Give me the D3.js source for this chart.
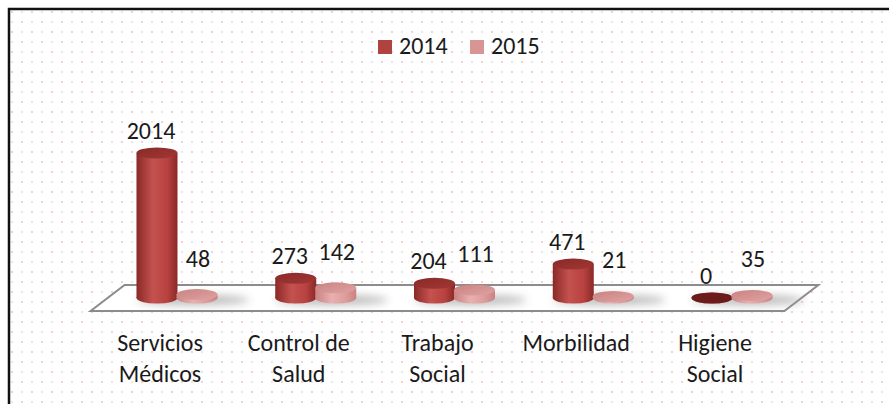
<!DOCTYPE html>
<html>
<head>
<meta charset="utf-8">
<script src="https://cdn.jsdelivr.net/npm/d3@7"></script>
<style>
  body { margin: 0; background: #fff; }
  text { font-family: Carlito, "Liberation Sans Narrow", "Liberation Sans", sans-serif; fill: #1a1a1a; }
</style>
</head>
<body>
<div id="chart"></div>
<script>
var categories = ["Servicios Médicos", "Control de Salud", "Trabajo Social", "Morbilidad", "Higiene Social"];
var categoryLines = [["Servicios", "Médicos"], ["Control de", "Salud"], ["Trabajo", "Social"], ["Morbilidad"], ["Higiene", "Social"]];
var series = ["2014", "2015"];
var values2014 = [2014, 273, 204, 471, 0];
var values2015 = [48, 142, 111, 21, 35];

var width = 889, height = 404;
var depth = 17; // perspective shift of the floor

var svg = d3.select("#chart").append("svg")
  .attr("width", width)
  .attr("height", height);

var defs = svg.append("defs");

// dotted background
var pat = defs.append("pattern")
  .attr("id", "dots")
  .attr("width", 20).attr("height", 20)
  .attr("patternUnits", "userSpaceOnUse");
pat.append("circle").attr("cx", 2).attr("cy", 2).attr("r", 0.9).attr("fill", "#efb9c6");
pat.append("circle").attr("cx", 12).attr("cy", 2).attr("r", 0.9).attr("fill", "#dddddd");
pat.append("circle").attr("cx", 2).attr("cy", 12).attr("r", 0.9).attr("fill", "#dddddd");
pat.append("circle").attr("cx", 12).attr("cy", 12).attr("r", 0.9).attr("fill", "#efb9c6");

svg.append("rect").attr("width", width).attr("height", height).attr("fill", "#fff");
svg.append("rect").attr("x", 9).attr("y", 9).attr("width", width).attr("height", height)
  .attr("fill", "url(#dots)");
svg.append("path")
  .attr("d", "M9," + height + "V9H" + width)
  .attr("fill", "none").attr("stroke", "#111").attr("stroke-width", 2.5);

// gradients
var colors = {
  "2014": { dark: "#8a2927", mid: "#c4524f", light: "#b8423f", top: "#a13835", zero: "#6a1b1a" },
  "2015": { dark: "#c98281", mid: "#e8b0b0", light: "#dc9c9b", top: "#dfa3a2", zero: "#c98281" }
};
series.forEach(function(s) {
  var g = defs.append("linearGradient").attr("id", "body" + s)
    .attr("x1", 0).attr("x2", 1).attr("y1", 0).attr("y2", 0);
  g.append("stop").attr("offset", "0%").attr("stop-color", colors[s].dark);
  g.append("stop").attr("offset", "40%").attr("stop-color", colors[s].mid);
  g.append("stop").attr("offset", "75%").attr("stop-color", colors[s].light);
  g.append("stop").attr("offset", "100%").attr("stop-color", colors[s].dark);
  var t = defs.append("linearGradient").attr("id", "top" + s)
    .attr("x1", 0).attr("x2", 1).attr("y1", 0).attr("y2", 1);
  t.append("stop").attr("offset", "0%").attr("stop-color", colors[s].dark);
  t.append("stop").attr("offset", "100%").attr("stop-color", colors[s].top);
});
defs.append("filter").attr("id", "blur")
  .attr("x", "-50%").attr("y", "-200%").attr("width", "200%").attr("height", "500%")
  .append("feGaussianBlur").attr("stdDeviation", 4);

var x = d3.scaleBand()
  .domain(categories)
  .range([107.6, 801.4]);

var xs = d3.scaleBand()
  .domain(series)
  .range([-40, 40]);

var y = d3.scaleLinear()
  .domain([0, 2500])
  .range([298, 118]);

var rx = xs.bandwidth() / 2 + 0.5, ry = 5.5;

// floor
var x0 = x.range()[0], x1 = x.range()[1];
var yBack = y(0) - 13, yFront = y(0) + 13;
svg.append("path")
  .attr("d", "M" + (x0 + depth) + "," + yBack + "L" + (x1 + depth) + "," + yBack +
    "L" + (x1 - depth) + "," + yFront + "L" + (x0 - depth) + "," + yFront + "Z")
  .attr("fill", "#fff")
  .attr("stroke", "#8c8c8c")
  .attr("stroke-width", 2);

var data = [];
categories.forEach(function(c, i) {
  data.push({ cat: c, s: "2014", v: values2014[i] });
  data.push({ cat: c, s: "2015", v: values2015[i] });
});
function cx(d) { return x(d.cat) + x.bandwidth() / 2 + xs(d.s) + xs.bandwidth() / 2; }

// shadows
svg.selectAll(".shadow")
  .data(categories)
  .enter()
  .append("ellipse")
  .attr("class", "shadow")
  .attr("cx", function(c) { return x(c) + x.bandwidth() / 2 + 16; })
  .attr("cy", y(0) + 2)
  .attr("rx", 56).attr("ry", 5)
  .attr("fill", "#9a9a9a")
  .attr("opacity", 0.7)
  .attr("filter", "url(#blur)");

var bars = svg.selectAll(".cyl")
  .data(data)
  .enter()
  .append("g")
  .attr("class", "cyl");

bars.append("ellipse")
  .attr("cx", cx).attr("cy", y(0))
  .attr("rx", rx).attr("ry", ry)
  .attr("fill", function(d) { return "url(#body" + d.s + ")"; });

bars.append("rect")
  .attr("x", function(d) { return cx(d) - rx; })
  .attr("y", function(d) { return y(d.v); })
  .attr("width", rx * 2)
  .attr("height", function(d) { return y(0) - y(d.v); })
  .attr("fill", function(d) { return "url(#body" + d.s + ")"; });

bars.append("ellipse")
  .attr("cx", cx).attr("cy", function(d) { return y(d.v); })
  .attr("rx", rx).attr("ry", ry)
  .attr("fill", function(d) { return d.v === 0 ? colors[d.s].zero : "url(#top" + d.s + ")"; });

// value labels
svg.selectAll(".val")
  .data(data)
  .enter()
  .append("text")
  .attr("class", "val")
  .attr("x", function(d) { return d.s === "2014" ? cx(d) - 6 : cx(d) + 1; })
  .attr("y", function(d) { return y(d.v) - (d.s === "2014" ? 14 : 28); })
  .attr("text-anchor", "middle")
  .style("font-size", "24px")
  .text(function(d) { return d.v; });

// category labels
var cl = svg.selectAll(".cat")
  .data(categories)
  .enter()
  .append("text")
  .attr("class", "cat")
  .attr("x", function(c) { return x(c) + x.bandwidth() / 2 - depth; })
  .attr("y", 351)
  .attr("text-anchor", "middle")
  .style("font-size", "24px");
cl.selectAll("tspan")
  .data(function(c, i) { return categoryLines[i]; })
  .enter()
  .append("tspan")
  .attr("x", function() { return d3.select(this.parentNode).attr("x"); })
  .attr("dy", function(d, i) { return i === 0 ? 0 : 31; })
  .text(function(d) { return d; });

// legend
var legend = svg.selectAll(".leg")
  .data(series)
  .enter()
  .append("g")
  .attr("class", "leg")
  .attr("transform", function(d, i) { return "translate(" + (378 + i * 92) + ",40)"; });
legend.append("rect")
  .attr("width", 14).attr("height", 14)
  .attr("fill", function(d) { return d === "2014" ? "#b04240" : "#d99594"; });
legend.append("text")
  .attr("x", 21).attr("y", 14)
  .style("font-size", "24px")
  .text(function(d) { return d; });
</script>
</body>
</html>
